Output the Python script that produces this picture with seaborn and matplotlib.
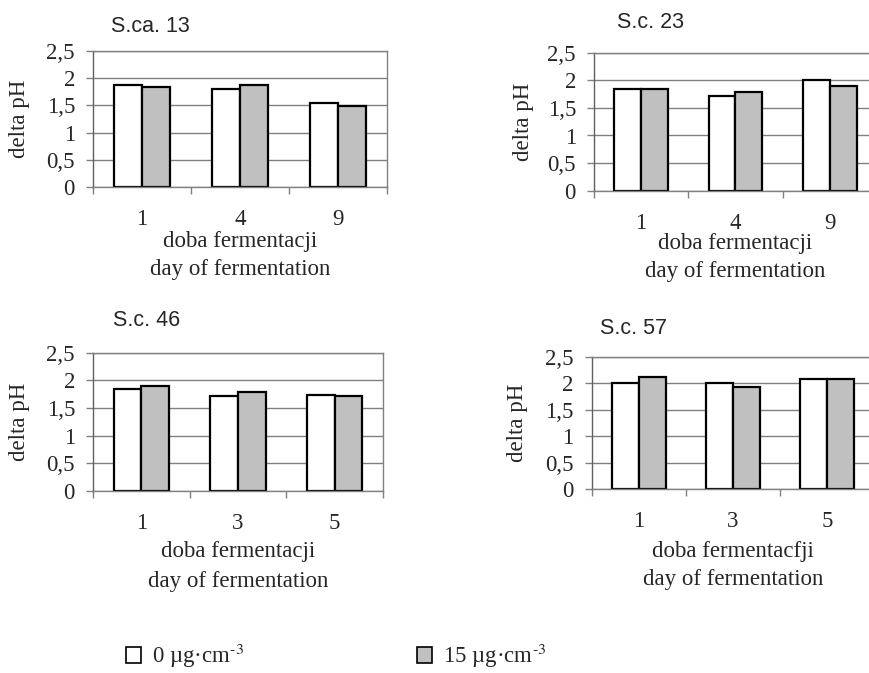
import pandas as pd
import matplotlib
matplotlib.use('Agg')
import matplotlib.pyplot as plt
from matplotlib.patches import Patch
from matplotlib.ticker import FuncFormatter
import seaborn as sns

# dane
days_a = ['1', '4', '9']
days_b = ['1', '3', '5']
doses = [r'0 µg·cm$^{\text{-}3}$', r'15 µg·cm$^{\text{-}3}$']

sca13_0 = [1.88, 1.81, 1.55]
sca13_15 = [1.84, 1.88, 1.48]
sc23_0 = [1.85, 1.71, 2.00]
sc23_15 = [1.85, 1.78, 1.89]
sc46_0 = [1.85, 1.71, 1.74]
sc46_15 = [1.89, 1.78, 1.71]
sc57_0 = [2.00, 2.00, 2.07]
sc57_15 = [2.11, 1.93, 2.07]

colors = ['white', '#c0c0c0']

sns.set_theme(style='white')
plt.rcParams['font.family'] = ['Liberation Serif', 'DejaVu Serif']
plt.rcParams['mathtext.fontset'] = 'stix'

W, H = 870, 673
FS = 16.5
fig = plt.figure(figsize=(W / 100, H / 100), dpi=100)


def panel(box, days, v0, v15, title, title_xy, ylab_x, xlab1, lab_y):
    left, top, right, bottom = box
    ax = fig.add_axes([left / W, 1 - bottom / H, (right - left) / W, (bottom - top) / H])
    df = pd.DataFrame({
        'day': days * 2,
        'val': v0 + v15,
        'dose': [doses[0]] * 3 + [doses[1]] * 3,
    })
    sns.barplot(data=df, x='day', y='val', hue='dose', order=days, hue_order=doses,
                palette=colors, saturation=1, edgecolor='black', linewidth=1.6,
                width=0.57, gap=0, legend=False, ax=ax)
    ax.set_xlim(-0.5, 2.5)
    ax.set_ylim(0, 2.5)
    ax.set_yticks([0, 0.5, 1, 1.5, 2, 2.5])
    ax.yaxis.set_major_formatter(FuncFormatter(lambda v, p: ('%g' % v).replace('.', ',')))
    ax.set_xticks([-0.5, 0.5, 1.5, 2.5])
    ax.set_xticklabels([])
    ax.set_xticks([0, 1, 2], minor=True)
    ax.set_xticklabels(days, minor=True)
    ax.tick_params(axis='x', which='major', length=5, width=1, color='#808080', direction='out', bottom=True)
    ax.tick_params(axis='x', which='minor', length=0, pad=16, labelsize=FS, bottom=True)
    ax.tick_params(axis='y', length=5, width=1, color='#808080', direction='out', pad=8, labelsize=FS, left=True)
    ax.yaxis.grid(True, color='#808080', lw=1)
    ax.set_axisbelow(True)
    for s in ax.spines.values():
        s.set_color('#808080')
        s.set_linewidth(1)
    ax.spines['left'].set_color('#606060')
    ax.set_xlabel('')
    ax.set_ylabel('delta pH', fontsize=FS, va='center')
    ax.yaxis.set_label_coords((ylab_x - left) / (right - left), 0.5)
    fig.text(title_xy[0] / W, 1 - title_xy[1] / H, title, family='Liberation Sans',
             fontsize=15.5, ha='left', va='center')
    fig.text(((left + right) / 2) / W, 1 - lab_y[0] / H, xlab1, fontsize=FS, ha='center', va='center')
    fig.text(((left + right) / 2) / W, 1 - lab_y[1] / H, 'day of fermentation', fontsize=FS,
             ha='center', va='center')
    return ax


panel((93, 51, 387, 187), days_a, sca13_0, sca13_15, 'S.ca. 13', (111, 27), 20,
      'doba fermentacji', (241, 270))
panel((594, 52.7, 877, 190.7), days_a, sc23_0, sc23_15, 'S.c. 23', (617, 23), 523,
      'doba fermentacji', (243, 272))
panel((93, 352.7, 383, 490.7), days_b, sc46_0, sc46_15, 'S.c. 46', (113, 320), 20,
      'doba fermentacji', (552, 582))
panel((591.7, 356.7, 874, 489), days_b, sc57_0, sc57_15, 'S.c. 57', (600, 328), 518,
      'doba fermentacfji', (552, 580))

# legenda: dwa osobne wpisy
for c, lab, x0 in zip(colors, doses, [126, 417]):
    h = Patch(facecolor=c, edgecolor='black', linewidth=1.2)
    fig.legend([h], [lab], loc='center left', bbox_to_anchor=(x0 / W, 1 - 656 / H),
               frameon=False, fontsize=FS, handlelength=0.65, handleheight=0.65,
               handletextpad=0.5, borderpad=0, borderaxespad=0)

fig.savefig('out.png', dpi=100)
